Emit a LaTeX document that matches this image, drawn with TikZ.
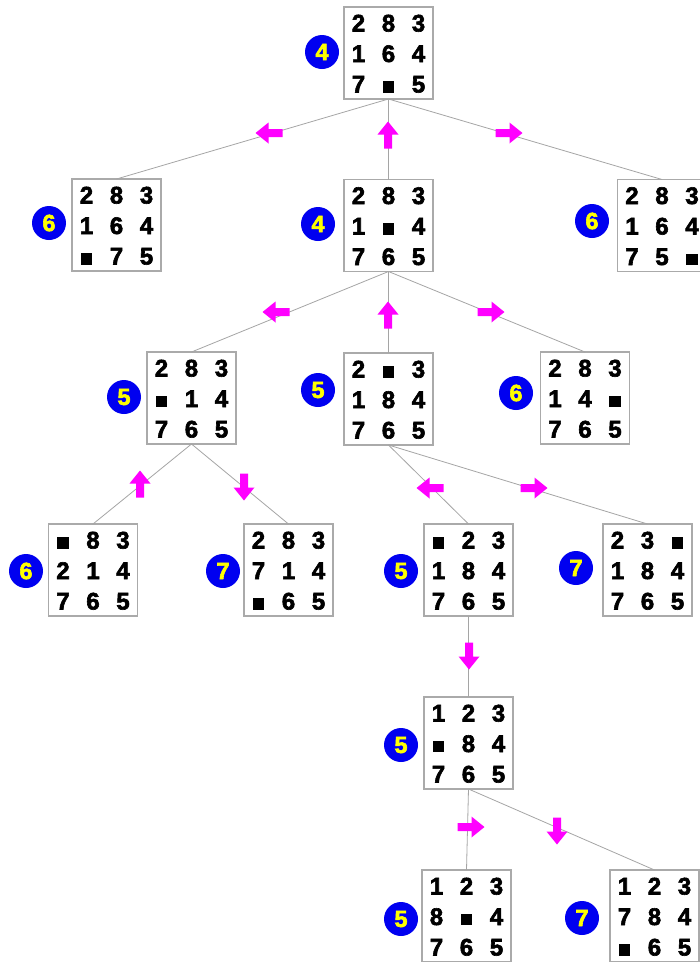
\documentclass[tikz,border=0pt]{standalone}
\usepackage{fontspec}
\setmainfont{Liberation Sans}[BoldFeatures={FakeBold=2.5}]
\usetikzlibrary{calc}
\definecolor{boxgray}{RGB}{170,170,170}
\definecolor{linegray}{RGB}{165,165,165}
\definecolor{hblue}{RGB}{0,0,240}
\definecolor{hyellow}{RGB}{255,255,0}
\definecolor{amag}{RGB}{255,0,255}
\newcommand\B{\rule{11.5pt}{11.5pt}}
\newcommand\grid[2]{%
  \foreach \v [count=\i from 0] in {#2}{%
    \pgfmathsetmacro\xx{-30+30*mod(\i,3)}%
    \pgfmathsetmacro\yy{-21.5+30.5*int(\i/3)}%
    \node[dg] at ($(#1)+(\xx,\yy)$) {\v};}}
\tikzset{
  pbox/.style={draw=boxgray, line width=1.1pt, fill=white, minimum width=89pt, minimum height=92pt, inner sep=0pt, outer sep=0pt},
  dg/.style={anchor=base, inner sep=0pt, font=\fontsize{24}{25}\selectfont\bfseries},
  hval/.style={circle, fill=hblue, minimum size=34pt, inner sep=0pt, text=hyellow, font=\fontsize{23.5}{24}\selectfont\bfseries},
  edge/.style={draw=linegray, line width=0.8pt},
  fatR/.pic={\fill[amag] (-13.5,-4) -- (0.5,-4) -- (0.5,-10.5) -- (13.5,0) -- (0.5,10.5) -- (0.5,4) -- (-13.5,4) -- cycle;}
}
\begin{document}
\begin{tikzpicture}[x=1pt,y=-1pt]
\useasboundingbox (0,0) rectangle (700,962);
\fill[white] (0,0) rectangle (700,962);
% boxes
\node[pbox] (A) at (388.5,53) {};
\node[pbox] (B) at (116.5,225) {};
\node[pbox] (C) at (388.5,225.5) {};
\node[pbox] (D) at (662,225.5) {};
\node[pbox] (E) at (191.5,398) {};
\node[pbox] (F) at (388.5,399) {};
\node[pbox] (G) at (585,398) {};
\node[pbox] (H) at (93,570) {};
\node[pbox] (I) at (288.5,570) {};
\node[pbox] (J) at (468.5,570) {};
\node[pbox] (K) at (647.5,570) {};
\node[pbox] (L) at (468.5,743) {};
\node[pbox] (M) at (466.5,916) {};
\node[pbox] (N) at (654.5,916) {};
% edges
\draw[edge] (A.south) -- (B.north);
\draw[edge] (A.south) -- (C.north);
\draw[edge] (A.south) -- (D.north);
\draw[edge] (C.south) -- (E.north);
\draw[edge] (C.south) -- (F.north);
\draw[edge] (C.south) -- (G.north);
\draw[edge] (E.south) -- (H.north);
\draw[edge] (E.south) -- (I.north);
\draw[edge] (F.south) -- (J.north);
\draw[edge] (F.south) -- (K.north);
\draw[edge] (J.south) -- (L.north);
\draw[edge] (L.south) -- (M.north);
\draw[edge] (L.south) -- (N.north);
% grids
\grid{A}{2,8,3,1,6,4,7,\B,5}
\grid{B}{2,8,3,1,6,4,\B,7,5}
\grid{C}{2,8,3,1,\B,4,7,6,5}
\grid{D}{2,8,3,1,6,4,7,5,\B}
\grid{E}{2,8,3,\B,1,4,7,6,5}
\grid{F}{2,\B,3,1,8,4,7,6,5}
\grid{G}{2,8,3,1,4,\B,7,6,5}
\grid{H}{\B,8,3,2,1,4,7,6,5}
\grid{I}{2,8,3,7,1,4,\B,6,5}
\grid{J}{\B,2,3,1,8,4,7,6,5}
\grid{K}{2,3,\B,1,8,4,7,6,5}
\grid{L}{1,2,3,\B,8,4,7,6,5}
\grid{M}{1,2,3,8,\B,4,7,6,5}
\grid{N}{1,2,3,7,8,4,\B,6,5}
% heuristic values
\node[hval] (hA) at (322,52) {4};
\node[hval] (hB) at (49,223) {6};
\node[hval] (hC) at (318,224) {4};
\node[hval] (hD) at (592,221) {6};
\node[hval] (hE) at (124,397) {5};
\node[hval] (hF) at (318,390) {5};
\node[hval] (hG) at (516,393) {6};
\node[hval] (hH) at (26,571) {6};
\node[hval] (hI) at (223,571) {7};
\node[hval] (hJ) at (401,571) {5};
\node[hval] (hK) at (576,568) {7};
\node[hval] (hL) at (401,745) {5};
\node[hval] (hM) at (401,919) {5};
\node[hval] (hN) at (582,918) {7};
% move arrows
\pic[rotate=180] at (269,133) {fatR};
\pic[rotate=90] at (388,135) {fatR};
\pic at (509,133) {fatR};
\pic[rotate=180] at (276,312) {fatR};
\pic[rotate=90] at (388,315) {fatR};
\pic at (491,312) {fatR};
\pic[rotate=90] at (140,484) {fatR};
\pic[rotate=-90] at (244,487) {fatR};
\pic[rotate=180] at (430,488) {fatR};
\pic at (534,488) {fatR};
\pic[rotate=-90] at (469,656) {fatR};
\pic at (471,827) {fatR};
\pic[rotate=-90] at (557,831) {fatR};
\end{tikzpicture}
\end{document}
